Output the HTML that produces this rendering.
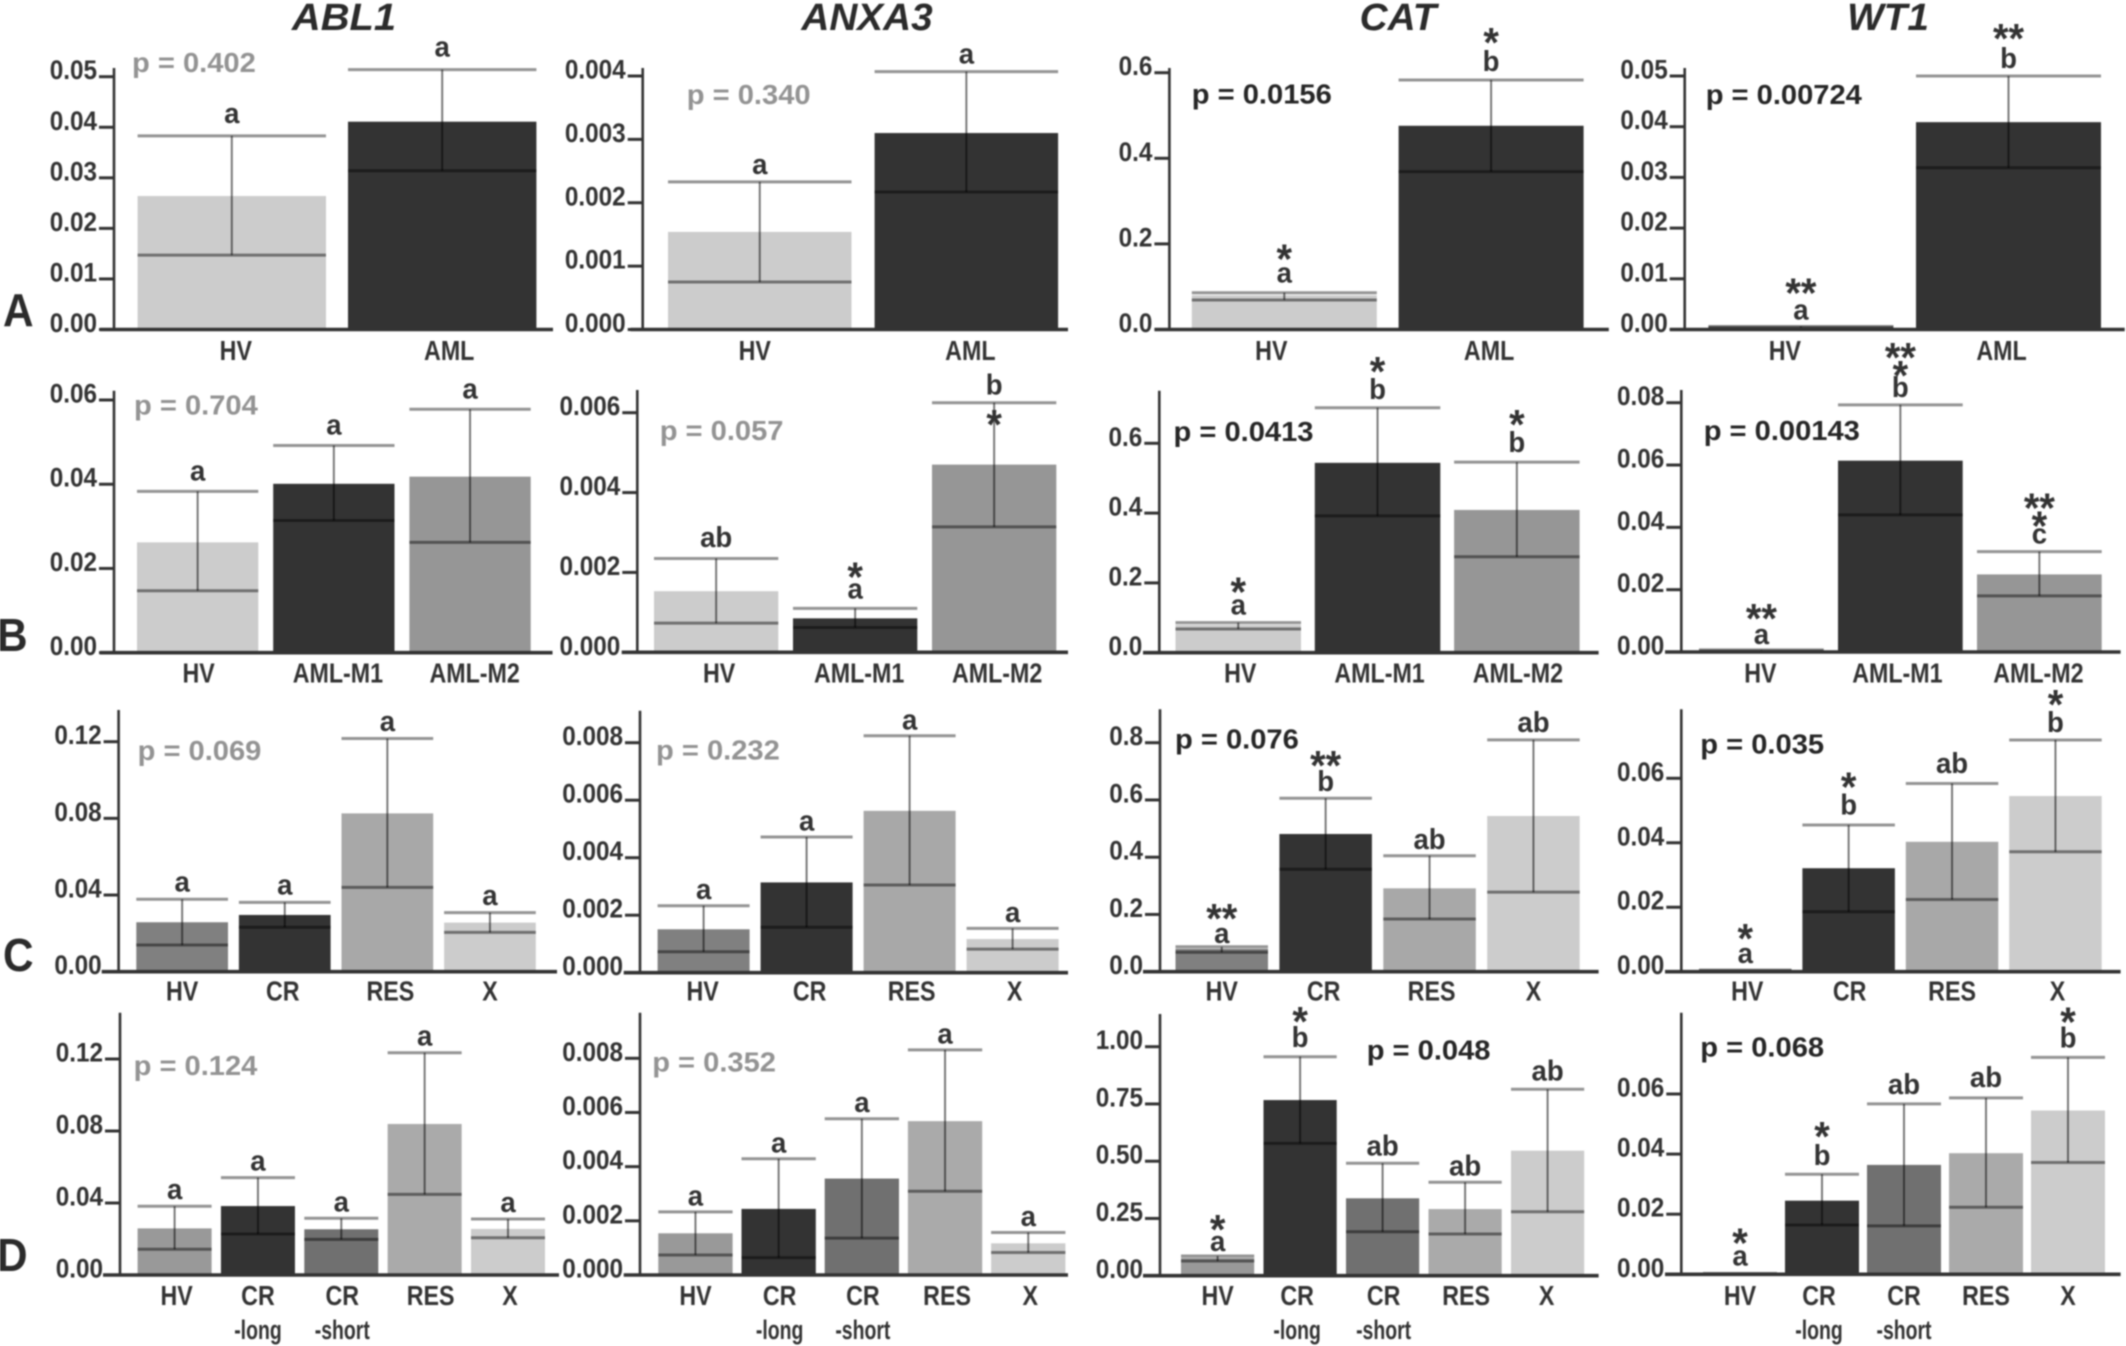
<!DOCTYPE html>
<html lang="en">
<head>
<meta charset="utf-8">
<title>Gene expression bar charts</title>
<style>
html,body{margin:0;padding:0;background:#fff;width:2126px;height:1346px;overflow:hidden}
svg{display:block;filter:blur(0.8px)}
text{font-family:"Liberation Sans",Arial,sans-serif;font-weight:bold}
</style>
</head>
<body>
<svg id="figure" xmlns="http://www.w3.org/2000/svg" width="2126" height="1346" viewBox="0 0 2126 1346">
  <g font-size="38" font-style="italic" fill="#2b2b2b" text-anchor="middle">
    <text transform="translate(344,30) scale(1.05,1)">ABL1</text>
    <text transform="translate(867,30) scale(1.02,1)">ANXA3</text>
    <text transform="translate(1398,30) scale(1.02,1)">CAT</text>
    <text transform="translate(1888,30) scale(1.02,1)">WT1</text>
  </g>
  <g font-size="46" fill="#2b2b2b">
    <text transform="translate(3,326) scale(.92,1)">A</text>
    <text transform="translate(-3,651) scale(.92,1)">B</text>
    <text transform="translate(3,971) scale(.92,1)">C</text>
    <text transform="translate(-3,1271) scale(.92,1)">D</text>
  </g>
  <g id="panels"></g>
</svg>
<script>
// Categories
const groupsA = ['HV','AML'];
const groupsB = ['HV','AML-M1','AML-M2'];
const groupsC = ['HV','CR','RES','X'];
const groupsD = ['HV','CR|-long','CR|-short','RES','X'];

// Row A
const ticksA1 = ['0.00','0.01','0.02','0.03','0.04','0.05'];
const meanA1 = [0.0264,0.0411];
const upperA1 = [0.0383,0.0514];
const lowerA1 = [0.0147,0.0314];
const lettersA1 = ['a','a'];
const starsA1 = ['',''];

const ticksA2 = ['0.000','0.001','0.002','0.003','0.004'];
const meanA2 = [0.00154,0.0031];
const upperA2 = [0.00233,0.00407];
const lowerA2 = [0.00075,0.00217];
const lettersA2 = ['a','a'];
const starsA2 = ['',''];

const ticksA3 = ['0.0','0.2','0.4','0.6'];
const meanA3 = [0.08,0.476];
const upperA3 = [0.086,0.583];
const lowerA3 = [0.069,0.369];
const lettersA3 = ['a','b'];
const starsA3 = ['*','*'];

const ticksA4 = ['0.00','0.01','0.02','0.03','0.04','0.05'];
const meanA4 = [0.0005,0.0409];
const upperA4 = [0.0006,0.05];
const lowerA4 = [0.0004,0.0319];
const lettersA4 = ['a','b'];
const starsA4 = ['**','**'];

// Row B
const ticksB1 = ['0.00','0.02','0.04','0.06'];
const meanB1 = [0.0262,0.0401,0.0418];
const upperB1 = [0.0383,0.0492,0.0578];
const lowerB1 = [0.0147,0.0314,0.0262];
const lettersB1 = ['a','a','a'];
const starsB1 = ['','',''];

const ticksB2 = ['0.000','0.002','0.004','0.006'];
const meanB2 = [0.00153,0.00085,0.0047];
const upperB2 = [0.00235,0.0011,0.00625];
const lowerB2 = [0.00073,0.00062,0.00314];
const lettersB2 = ['ab','a','b'];
const starsB2 = ['','*','*'];

const ticksB3 = ['0.0','0.2','0.4','0.6'];
const meanB3 = [0.08,0.544,0.409];
const upperB3 = [0.086,0.702,0.546];
const lowerB3 = [0.068,0.392,0.275];
const lettersB3 = ['a','b','b'];
const starsB3 = ['*','*','*'];

const ticksB4 = ['0.00','0.02','0.04','0.06','0.08'];
const meanB4 = [0.0005,0.0614,0.0249];
const upperB4 = [0.0007,0.0793,0.0322];
const lowerB4 = [0.0003,0.044,0.018];
const lettersB4 = ['a','b','c'];
const starsB4 = ['**','**|*','**|*'];

// Row C
const ticksC1 = ['0.00','0.04','0.08','0.12'];
const meanC1 = [0.0258,0.0296,0.0826,0.0256];
const upperC1 = [0.0378,0.0362,0.1217,0.0308];
const lowerC1 = [0.0139,0.0232,0.044,0.0205];
const lettersC1 = ['a','a','a','a'];
const starsC1 = ['','','',''];

const ticksC2 = ['0.000','0.002','0.004','0.006','0.008'];
const meanC2 = [0.00151,0.00314,0.00563,0.00117];
const upperC2 = [0.00233,0.00472,0.00824,0.00154];
const lowerC2 = [0.00073,0.00158,0.00305,0.00082];
const lettersC2 = ['a','a','a','a'];
const starsC2 = ['','','',''];

const ticksC3 = ['0.0','0.2','0.4','0.6','0.8'];
const meanC3 = [0.08,0.481,0.2913,0.544];
const upperC3 = [0.087,0.606,0.405,0.81];
const lowerC3 = [0.068,0.358,0.184,0.278];
const lettersC3 = ['a','b','ab','ab'];
const starsC3 = ['**','**','',''];

const ticksC4 = ['0.00','0.02','0.04','0.06'];
const meanC4 = [0.0004,0.0321,0.0403,0.0545];
const upperC4 = [0.0005,0.0455,0.0584,0.0719];
const lowerC4 = [0.0003,0.0186,0.0224,0.0372];
const lettersC4 = ['a','b','ab','b'];
const starsC4 = ['*','*','','*'];

// Row D
const ticksD1 = ['0.00','0.04','0.08','0.12'];
const meanD1 = [0.0259,0.0383,0.0254,0.0839,0.0256];
const upperD1 = [0.0382,0.0541,0.0315,0.1235,0.0311];
const lowerD1 = [0.0143,0.0228,0.0198,0.0448,0.0207];
const lettersD1 = ['a','a','a','a','a'];
const starsD1 = ['','','','',''];

const ticksD2 = ['0.000','0.002','0.004','0.006','0.008'];
const meanD2 = [0.00154,0.00244,0.00356,0.00568,0.00117];
const upperD2 = [0.00233,0.00429,0.00577,0.00831,0.00157];
const lowerD2 = [0.00074,0.00064,0.00136,0.00309,0.00083];
const lettersD2 = ['a','a','a','a','a'];
const starsD2 = ['','','','',''];

const ticksD3 = ['0.00','0.25','0.50','0.75','1.00'];
const meanD3 = [0.078,0.767,0.338,0.291,0.546];
const upperD3 = [0.086,0.956,0.491,0.408,0.814];
const lowerD3 = [0.064,0.578,0.192,0.182,0.279];
const lettersD3 = ['a','b','ab','ab','ab'];
const starsD3 = ['*','*','','',''];

const ticksD4 = ['0.00','0.02','0.04','0.06'];
const meanD4 = [0.0002,0.0245,0.0364,0.0403,0.0545];
const upperD4 = [0.0003,0.0333,0.0567,0.0587,0.0722];
const lowerD4 = [0.0001,0.0164,0.0161,0.0223,0.0372];
const lettersD4 = ['a','b','ab','ab','b'];
const starsD4 = ['*','*','','','*'];

// Printed p values
const pValues = ['p = 0.402','p = 0.340','p = 0.0156','p = 0.00724','p = 0.704','p = 0.057','p = 0.0413','p = 0.00143','p = 0.069','p = 0.232','p = 0.076','p = 0.035','p = 0.124','p = 0.352','p = 0.048','p = 0.068'];

// Bar tones per row
const fillsA = ['#cccccc','#333333'];
const fillsB = ['#cccccc','#333333','#969696'];
const fillsC = ['#808080','#333333','#a8a8a8','#cccccc'];
const fillsD = ['#999999','#333333','#707070','#aaaaaa','#cccccc'];

// Panel geometry (layout only; every mark is derived from the data arrays above)
const panels = [
 {id:'a-abl1',g:groupsA,f:fillsA,t:ticksA1,m:meanA1,u:upperA1,l:lowerA1,s:lettersA1,st:starsA1,ax:114,base:329.5,top:68,refY:76.7,bx:137.6,bw:188.4,step:210.4,lL:100,lR:553,dx:[4,7],lb:360,px:132,py:72,grey:1,lift:13,gap:34},
 {id:'a-anxa3',g:groupsA,f:fillsA,t:ticksA2,m:meanA2,u:upperA2,l:lowerA2,s:lettersA2,st:starsA2,ax:642.7,base:329.5,top:68,refY:76,bx:668,bw:183.5,step:206.6,lL:630.5,lR:1068,dx:[-5,4],lb:360,px:686.8,py:104,grey:1,lift:8,gap:34},
 {id:'a-cat',g:groupsA,f:fillsA,t:ticksA3,m:meanA3,u:upperA3,l:lowerA3,s:lettersA3,st:starsA3,ax:1169.4,base:329.5,top:68,refY:72.7,bx:1191.8,bw:185,step:206.8,lL:1154.5,lR:1608.8,dx:[-13,-2],lb:360,px:1191.8,py:103.3,grey:0,lift:[10,9],gap:[31,36]},
 {id:'a-wt1',g:groupsA,f:fillsA,t:ticksA4,m:meanA4,u:upperA4,l:lowerA4,s:lettersA4,st:starsA4,ax:1684.7,base:329.5,top:68,refY:76,bx:1708.4,bw:185,step:207.6,lL:1669.8,lR:2124.7,dx:[-16,-7],lb:360,px:1705.7,py:104,grey:0,lift:[7,8],gap:[34,37]},

 {id:'b-abl1',g:groupsB,f:fillsB,t:ticksB1,m:meanB1,u:upperB1,l:lowerB1,s:lettersB1,st:starsB1,ax:114,base:652.7,top:390.7,refY:400,bx:137,bw:121.3,step:136.2,lL:100,lR:552.5,dx:[1,4,4.6],lb:682.7,px:134,py:414.3,grey:1,lift:11,gap:34},
 {id:'b-anxa3',g:groupsB,f:fillsB,t:ticksB2,m:meanB2,u:upperB2,l:lowerB2,s:lettersB2,st:starsB2,ax:637.3,base:652.3,top:390,refY:412.7,bx:654,bw:124.3,step:139,lL:621.7,lR:1068,dx:[3,4,3],lb:682.7,px:659.7,py:440,grey:1,lift:[11.6,10,8],gap:[0,29,-22.4]},
 {id:'b-cat',g:groupsB,f:fillsB,t:ticksB3,m:meanB3,u:upperB3,l:lowerB3,s:lettersB3,st:starsB3,ax:1159.3,base:652.7,top:390.7,refY:443.3,bx:1175.5,bw:125.5,step:139.3,lL:1143,lR:1598.6,dx:[2,2,1],lb:682.7,px:1173.5,py:441,grey:0,lift:[8,8.7,10],gap:[30,35,35]},
 {id:'b-wt1',g:groupsB,f:fillsB,t:ticksB4,m:meanB4,u:upperB4,l:lowerB4,s:lettersB4,st:starsB4,ax:1681.3,base:652,top:390,refY:402.7,bx:1699,bw:124.7,step:139,lL:1665,lR:2120.6,dx:[-1,-3,-1],lb:682.7,px:1703.7,py:440,grey:0,lift:[6,8,8.4],gap:[33,29,25]},

 {id:'c-abl1',g:groupsC,f:fillsC,t:ticksC1,m:meanC1,u:upperC1,l:lowerC1,s:lettersC1,st:starsC1,ax:118.6,base:971.7,top:710,refY:741.7,bx:136.3,bw:91.7,step:102.6,lL:101.7,lR:557,dx:[0,-2,3,0],lb:1000.7,px:137.6,py:760,grey:1,lift:7.6,gap:34},
 {id:'c-anxa3',g:groupsC,f:fillsC,t:ticksC2,m:meanC2,u:upperC2,l:lowerC2,s:lettersC2,st:starsC2,ax:640,base:972.7,top:710.7,refY:742.7,bx:657.6,bw:92,step:103,lL:623.7,lR:1068,dx:[-1,3,2,2],lb:1000.7,px:656,py:759.3,grey:1,lift:6.5,gap:34},
 {id:'c-cat',g:groupsC,f:fillsC,t:ticksC3,m:meanC3,u:upperC3,l:lowerC3,s:lettersC3,st:starsC3,ax:1160,base:971.7,top:709.3,refY:742.7,bx:1175.5,bw:92.5,step:103.9,lL:1143,lR:1598.6,dx:[0,-2,2,0],lb:1000.7,px:1175,py:748.3,grey:0,lift:[4,7,7,8],gap:[32,33,0,0]},
 {id:'c-wt1',g:groupsC,f:fillsC,t:ticksC4,m:meanC4,u:upperC4,l:lowerC4,s:lettersC4,st:starsC4,ax:1681.3,base:971.7,top:709.3,refY:778.3,bx:1699,bw:92.5,step:103.4,lL:1665,lR:2120.6,dx:[2,1,0,2],lb:1000.7,px:1700.3,py:753.3,grey:0,lift:[7,10.7,10.6,8],gap:[32,35,0,35]},

 {id:'d-abl1',g:groupsD,f:fillsD,t:ticksD1,m:meanD1,u:upperD1,l:lowerD1,s:lettersD1,st:starsD1,ax:120,base:1275,top:1012.7,refY:1059,bx:137.6,bw:74,step:83.35,lL:103,lR:559,dx:[2,0,1,6,2],lb:1305,px:133.6,py:1075,grey:1,lift:7,gap:34},
 {id:'d-anxa3',g:groupsD,f:fillsD,t:ticksD2,m:meanD2,u:upperD2,l:lowerD2,s:lettersD2,st:starsD2,ax:640,base:1275,top:1012.7,refY:1058.3,bx:658.3,bw:74.3,step:83.2,lL:623.7,lR:1068,dx:[0,1,1,2,2],lb:1305,px:652.2,py:1071.7,grey:1,lift:6.5,gap:34},
 {id:'d-cat',g:groupsD,f:fillsD,t:ticksD3,m:meanD3,u:upperD3,l:lowerD3,s:lettersD3,st:starsD3,ax:1160,base:1275.7,top:1014,refY:1046.7,bx:1181,bw:73.2,step:82.5,lL:1143,lR:1598.6,dx:[0,-3,1,1,-1],lb:1305,px:1366.7,py:1059.3,grey:0,lift:[5,10,8,7,9],gap:[29,33,0,0,0]},
 {id:'d-wt1',g:groupsD,f:fillsD,t:ticksD4,m:meanD4,u:upperD4,l:lowerD4,s:lettersD4,st:starsD4,ax:1681.3,base:1274.3,top:1012.7,refY:1094,bx:1703,bw:74,step:82,lL:1665,lR:2120.6,dx:[0,-3,0,0,0],lb:1305,px:1700.3,py:1056.7,grey:0,lift:[8,9,10,11,10],gap:[30,36,0,0,33]}
];

const NS = 'http://www.w3.org/2000/svg';
const INK = '#333333';

function line(parent, x1, y1, x2, y2, stroke, width) {
  const el = document.createElementNS(NS, 'line');
  el.setAttribute('x1', x1);
  el.setAttribute('y1', y1);
  el.setAttribute('x2', x2);
  el.setAttribute('y2', y2);
  el.setAttribute('stroke', stroke);
  el.setAttribute('stroke-width', width);
  parent.appendChild(el);
  return el;
}

function label(parent, x, y, str, size, sx, anchor, fill) {
  const el = document.createElementNS(NS, 'text');
  el.setAttribute('transform', 'translate(' + x + ',' + y + ') scale(' + sx + ',1)');
  el.setAttribute('font-size', size);
  el.setAttribute('text-anchor', anchor);
  el.setAttribute('fill', fill);
  el.textContent = str;
  parent.appendChild(el);
  return el;
}

function pick(v, i) {
  return Array.isArray(v) ? v[i] : v;
}

const root = document.getElementById('panels');

panels.forEach(function (p, idx) {
  const g = document.createElementNS(NS, 'g');
  
  
  root.appendChild(g);

  // Value axis: highest tick label anchors the scale
  const refV = parseFloat(p.t[p.t.length - 1]);
  const yScale = function (v) { return p.base - (v / refV) * (p.base - p.refY); };
  const xLeft = function (i) { return p.bx + i * p.step; };
  const xMid = function (i) { return xLeft(i) + p.bw / 2; };

  // Bars
  p.m.forEach(function (v, i) {
    const bar = document.createElementNS(NS, 'rect');
    bar.setAttribute('x', xLeft(i));
    bar.setAttribute('y', yScale(v));
    bar.setAttribute('width', p.bw);
    bar.setAttribute('height', p.base - yScale(v));
    bar.setAttribute('fill', p.f[i]);
    
    
    g.appendChild(bar);
  });

  // Error bars
  p.m.forEach(function (v, i) {
    const whisker = line(g, xMid(i), yScale(p.u[i]), xMid(i), yScale(p.l[i]), 'rgba(0,0,0,0.55)', 1.9);
    
    
    const capHigh = line(g, xLeft(i), yScale(p.u[i]), xLeft(i) + p.bw, yScale(p.u[i]), 'rgba(0,0,0,0.42)', 3);
    
    
    const capLow = line(g, xLeft(i), yScale(p.l[i]), xLeft(i) + p.bw, yScale(p.l[i]), 'rgba(0,0,0,0.45)', 3);
    
    
  });

  // Axes
  const yAxis = line(g, p.ax, p.top, p.ax, p.base, INK, 2.6);
  
  
  const xAxis = line(g, p.lL, p.base, p.lR, p.base, INK, 3.6);
  
  

  // Ticks
  p.t.forEach(function (t) {
    const y = yScale(parseFloat(t));
    const mark = line(g, p.ax - 15, y, p.ax, y, INK, 3);
    
    
    const tl = label(g, p.ax - 17, y + 2.5, t, 27, 0.9, 'end', INK);
    
    
  });

  // Category labels
  p.g.forEach(function (name, i) {
    const parts = name.split('|');
    const cx = xMid(i) + p.dx[i];
    const main = label(g, cx, p.lb, parts[0], 28, 0.83, 'middle', INK);
    
    
    if (parts[1]) {
      const sub = label(g, cx, p.lb + 34, parts[1], 27, 0.72, 'middle', INK);
      
      
    }
  });

  // Significance letters and stars
  p.s.forEach(function (letter, i) {
    const by = yScale(p.u[i]) - pick(p.lift, i);
    const cx = xMid(i);
    const sig = label(g, cx, by, letter, 29, 0.95, 'middle', INK);
    
    
    if (p.st[i]) {
      const rows = p.st[i].split('|').reverse();
      rows.forEach(function (r, k) {
        const centre = by - pick(p.gap, i) - k * 18;
        const star = label(g, cx, centre + 22, r, 42, 0.95, 'middle', INK);
        
        
      });
    }
  });

  // p value
  const pv = label(g, p.px, p.py, pValues[idx], 28, 1.04, 'start', p.grey ? '#939393' : '#262626');
  
  
});
</script>
</body>
</html>
